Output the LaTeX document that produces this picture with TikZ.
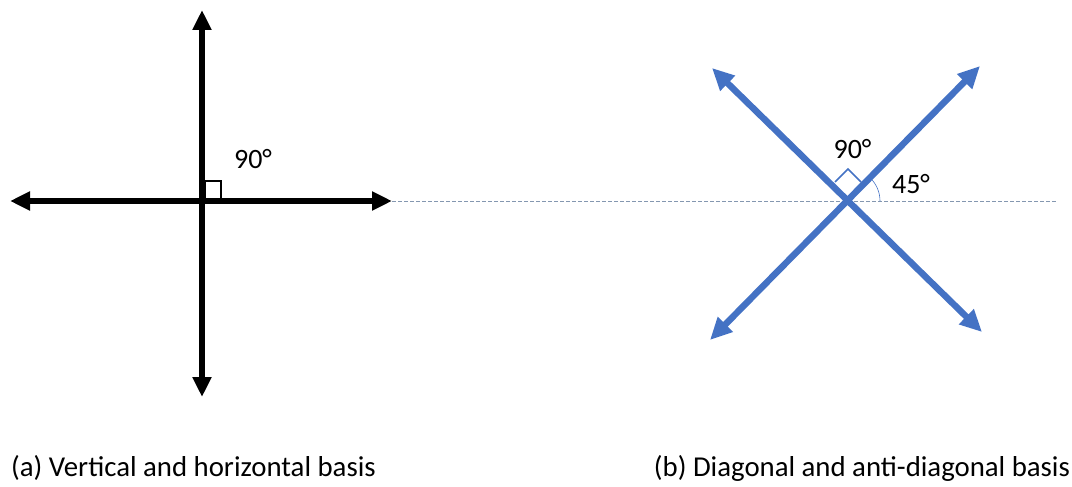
\documentclass[tikz,border=0pt]{standalone}
\usepackage{fontspec}
\setmainfont{Carlito}
\usetikzlibrary{arrows.meta,calc}
\definecolor{axblue}{HTML}{4472C4}
\definecolor{dashgray}{HTML}{8497B0}
\begin{document}
\begin{tikzpicture}[x=1pt,y=-1pt,
  blackaxis/.style={line width=5.5pt,black,{Triangle[length=20pt,width=18pt]}-{Triangle[length=20pt,width=18pt]}},
  blueaxis/.style={line width=6.5pt,axblue,{Triangle[length=22pt,width=20pt]}-{Triangle[length=22pt,width=20pt]}},
  lbl/.style={font=\fontsize{28.8}{32}\selectfont,inner sep=0pt},
  anglbl/.style={font=\fontsize{28}{31}\selectfont,inner sep=0pt}]
\useasboundingbox (0,0) rectangle (1072,487);
% left
\coordinate (L) at (10,201);
\coordinate (R) at (392,201);
\coordinate (T) at (202,10);
\coordinate (B) at (202,397);
\coordinate (O) at (202,201);
\draw[dashgray,line width=0.8pt,dash pattern=on 4pt off 2pt] (R) -- (1057,201) coordinate (E);
\draw[blackaxis] (L) -- (R);
\draw[blackaxis] (B) -- (T);
\draw[line width=1.5pt] (205,198) -- (205,181) -- (221,181) -- (221,198);
\node[anglbl] (a90) at (253,159) {90°};
% right
\coordinate (P1) at (712,68);
\coordinate (P2) at (982,332);
\coordinate (P3) at (710,340);
\coordinate (P4) at (980,66);
\draw[blueaxis] (P1) -- (P2);
\draw[blueaxis] (P3) -- (P4);
\coordinate (C) at (848,201);
\draw[axblue,line width=1.5pt] ($(C)+(-13,-19)$) -- ($(C)+(0,-32)$) -- ($(C)+(13,-19)$);
\draw[axblue,line width=0.6pt] ($(C)+(32,0)$) arc[start angle=0,end angle=45,radius=32pt];
\node[anglbl] (b90) at (852.5,149) {90°};
\node[anglbl] (b45) at (911,184) {45°};
% labels
\node[lbl] (la) at (193.5,468) {(a) Vertical and horizontal basis};
\node[lbl] (lb) at (862,468) {(b) Diagonal and anti-diagonal basis};
\end{tikzpicture}
\end{document}
